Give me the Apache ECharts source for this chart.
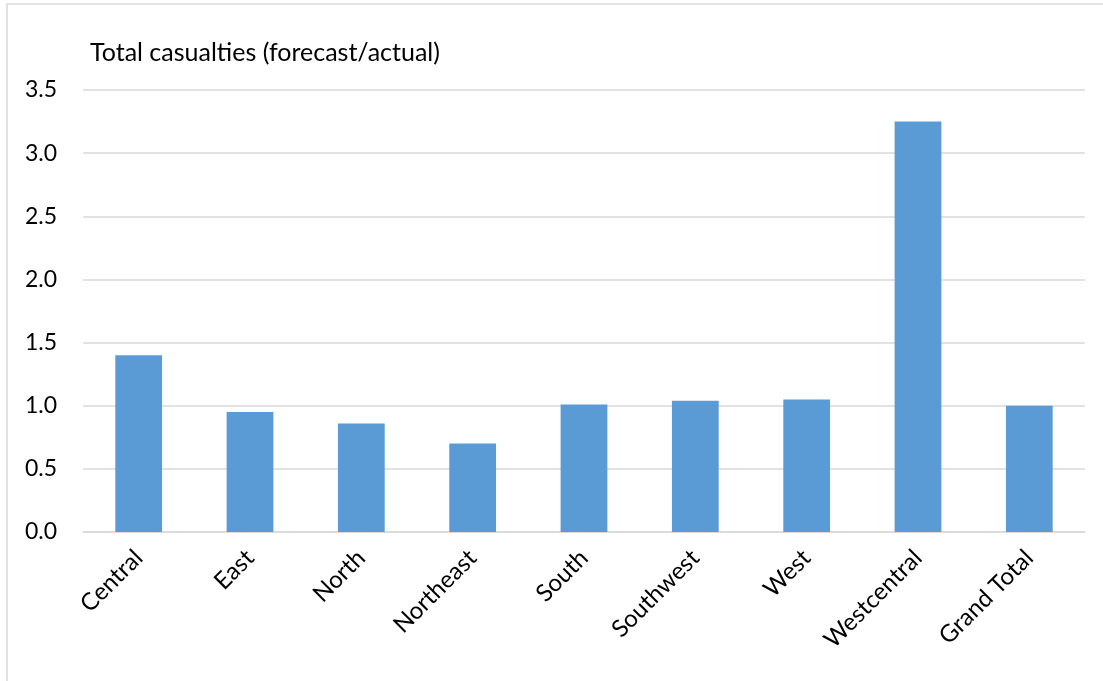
<!DOCTYPE html>
<html>
<head>
<meta charset="utf-8">
<script src="https://cdn.jsdelivr.net/npm/echarts@6/dist/echarts.min.js"></script>
<style>
  html, body { margin: 0; padding: 0; background: #fff; }
  #chart { width: 1103px; height: 681px; }
</style>
</head>
<body>
<div id="chart"></div>
<script>
  // 数据
  var categories = ['Central', 'East', 'North', 'Northeast', 'South', 'Southwest', 'West', 'Westcentral', 'Grand Total']
  var ratios = [1.40, 0.95, 0.86, 0.70, 1.01, 1.04, 1.05, 3.25, 1.00]
  var yTicks = [0, 0.5, 1.0, 1.5, 2.0, 2.5, 3.0, 3.5]

  var font = 'Lato, "Open Sans", sans-serif'
  var chart = echarts.init(document.getElementById('chart'))
  chart.setOption({
    animation: false,
    title: {
      text: 'Total casualties (forecast/actual)',
      left: 85,
      top: 35,
      textStyle: { fontFamily: font, fontSize: 25, fontWeight: 'normal', color: '#000' }
    },
    graphic: [
      {
        type: 'rect',
        shape: { x: 7, y: 4, width: 1200, height: 1000 },
        style: { fill: 'none', stroke: '#d9d9d9', lineWidth: 1.5 },
        silent: true
      }
    ],
    grid: {
      left: 83,
      right: 18,
      top: 90,
      bottom: 149
    },
    xAxis: {
      type: 'category',
      data: categories,
      axisLine: { lineStyle: { color: '#d9d9d9', width: 1.5 } },
      axisTick: { show: false },
      axisLabel: {
        rotate: 45,
        interval: 0,
        margin: 22,
        fontFamily: font,
        fontSize: 24,
        color: '#000'
      }
    },
    yAxis: {
      type: 'value',
      min: yTicks[0],
      max: yTicks[yTicks.length - 1],
      interval: 0.5,
      axisLine: { show: false },
      axisTick: { show: false },
      splitLine: { lineStyle: { color: '#d9d9d9', width: 1.5 } },
      axisLabel: {
        margin: 26,
        fontFamily: font,
        fontSize: 23,
        color: '#000',
        formatter: function (v) { return v.toFixed(1) }
      }
    },
    series: [
      {
        type: 'bar',
        data: ratios,
        barCategoryGap: '58%',
        itemStyle: { color: '#5b9bd5' }
      }
    ]
  })
</script>
</body>
</html>
